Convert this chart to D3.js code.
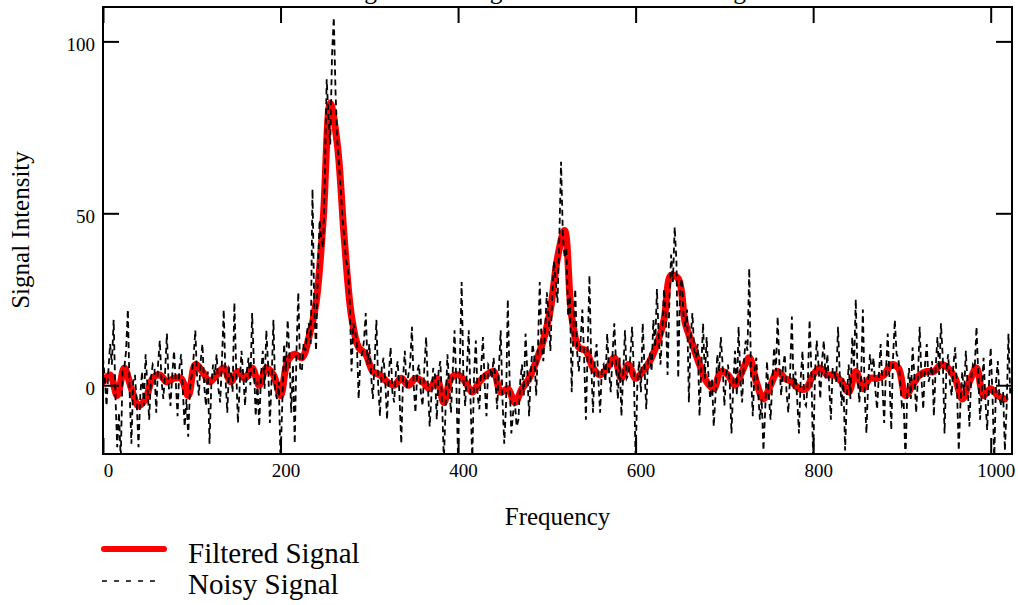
<!DOCTYPE html>
<html>
<head>
<meta charset="utf-8">
<script src="https://cdn.jsdelivr.net/npm/d3@7"></script>
<style>
  body { margin: 0; background: #fff; }
  text { font-family: "Liberation Serif", "Times New Roman", serif; fill: #000; }
</style>
</head>
<body>
<svg id="chart" width="1018" height="605"></svg>
<script>
// noisy signal, read every 2 frequency units (0..1022)
var noisyStep = 2;
var noisyVals = [
  8, 2, -6, 4, 12, 6, 19, -3, -18, -8, -22, 4, 5, 10, 22, -2, -17, 1, 3, -5,
  -18, -3, 4, -6, 9, 0, -10, 2, 6, 5, -8, 6, 13, 1, -4, 4, 15, 0, -6, 3,
  10, 1, -9, 5, 9, -2, -12, -4, -15, -1, 3, 8, 16, 2, -3, 7, 12, 0, -6, 4,
  -17, 0, 6, 3, 9, -1, -5, 7, 22, 2, -8, 5, 4, -2, 24, 5, -11, 0, 10, 3,
  -6, 4, 8, 0, 21, 6, -9, 1, -12, 3, 10, -1, 16, 6, -11, 2, 19, -2, -4, 1,
  -22, -5, 12, 4, 19, 9, -8, 6, -17, 10, 27, 5, 4, 12, 10, 16, 18, 12, 57, 22,
  10, 33, 48, 42, 40, 62, 89, 78, 70, 96, 107, 85, 71, 64, 56, 48, 42, 36, 34, 24,
  4, 18, 16, 12, -4, 8, 9, 13, 21, 6, 12, 3, -4, 7, 19, 0, -9, 5, 8, 1,
  -10, 3, 11, -2, -5, 4, 7, -3, -17, 2, 10, -1, 3, 6, 17, 0, -8, 4, 6, -2,
  -6, 5, 14, 0, -12, -3, 5, 3, -10, 4, 7, -5, -22, -6, 9, 0, -8, 4, 16, 1,
  -22, 6, 30, 2, -6, 5, 16, -4, -22, 3, 13, -3, -7, 5, 14, 0, -9, 6, 5, 2,
  8, 2, -7, 5, 16, -4, -17, -6, 25, 2, -14, -8, -5, -12, -10, 1, 6, -3, 15, 4,
  -9, 4, 12, 8, -3, 11, 30, 12, 7, 16, 27, 20, 10, 26, 36, 30, 24, 42, 65, 44,
  37, 40, 20, 26, -2, 17, 28, 10, 4, 13, 22, 8, -10, 11, 32, 6, -8, 7, 12, 2,
  -8, 5, 6, 1, 15, 4, -2, 9, 18, 6, -4, 8, -9, 3, 16, 2, 3, 8, 17, 4,
  -22, 1, 7, -2, 18, 5, -7, 8, 9, 4, 19, 11, 28, 14, 6, 15, 28, 20, 3, 24,
  38, 30, 46, 36, 2, 28, 31, 20, 17, 22, -5, 14, 21, 10, 8, 12, -9, 5, 18, 2,
  14, 3, -4, 2, -12, -3, 9, 4, 14, 6, -6, 3, 6, 1, -14, 0, 10, -3, 17, 2,
  -5, 7, 13, 10, 34, 3, -9, 4, 8, -2, -10, -4, -19, -7, 7, -3, -10, 1, 11, 4,
  20, 6, -3, 5, 9, -2, -8, 3, 20, -1, 4, -4, -14, 2, 10, -5, -6, 1, 19, 4,
  -22, 3, 13, 6, -4, 7, 13, 2, 9, 0, -10, 5, 4, 1, 17, 3, -6, 2, -19, -3,
  6, -4, 14, 5, 25, 3, -5, 2, 22, -2, -14, 1, 9, 4, 8, -1, -7, 3, 12, 0,
  -11, 4, 15, 2, -13, 8, 19, 9, 8, 1, -6, -5, -22, -2, 5, -4, 11, 3, -8, 2,
  17, 2, -7, 6, 12, 1, 3, 7, -9, 5, 14, 3, 18, 8, -14, 4, 9, 1, -3, 6,
  11, -1, -19, -5, 4, -3, 10, 0, -12, 2, 6, 5, 17, 3, -10, -2, 8, -4, -13, 0,
  11, -3, -22, 1, 7, -4, -6, -2, -19, -6, 15, -3
];

// filtered signal, read every 8 frequency units (0..1016)
var filteredStep = 8;
var filteredVals = [
  1, 3, -3, 5, -1, -6, -4, 2, 3, 1,
  2, 2, -3, 6, 4, 1, 3, 5, 1, 4,
  2, 5, 0, 5, 3, -3, 7, 9, 8, 14,
  24, 48, 82, 70, 42, 20, 11, 9, 4, 3,
  1, 0, 2, 0, 2, 1, -1, 2, -5, 2,
  3, 1, -2, 1, 3, 4, -2, -1, -5, -1,
  2, 7, 13, 22, 37, 45, 20, 11, 10, 5,
  3, 5, 8, 2, 6, 2, 4, 7, 12, 19,
  32, 31, 18, 12, 6, 1, -1, 4, 3, 0,
  4, 8, 1, -4, 0, 4, 2, 1, -1, -1,
  3, 5, 3, 3, 1, -2, 4, -1, 2, 2,
  3, 6, 5, -3, 0, 3, 4, 4, 6, 5,
  2, -4, 1, 5, -3, -1, -3, -4
];

var xTicks = [0, 200, 400, 600, 800, 1000];
var yTicks = [0, 50, 100];

var titleText = "Signal Filtering Results for the Test Signal";
var xLabel = "Frequency";
var yLabel = "Signal Intensity";
var legendNames = ["Filtered Signal", "Noisy Signal"];

var svg = d3.select("#chart");

var plotL = 103, plotR = 1012, plotT = 7, plotB = 454;

var x = d3.scaleLinear().domain([0, 1024]).range([plotL, plotR]);
var y = d3.scaleLinear().domain([-20, 110]).range([plotB, plotT]);

svg.append("defs").append("clipPath").attr("id", "plotclip")
  .append("rect")
  .attr("x", plotL).attr("y", plotT)
  .attr("width", plotR - plotL).attr("height", plotB - plotT);

// title, mostly cut off by the top of the picture
svg.append("text")
  .attr("x", 343)
  .attr("y", -1)
  .style("font-size", "25.5px")
  .text(titleText);

var plot = svg.append("g").attr("clip-path", "url(#plotclip)");

var redLine = d3.line()
  .x(function(d, i) { return x(i * filteredStep); })
  .y(function(d) { return y(d); })
  .curve(d3.curveCatmullRom);

var blackLine = d3.line()
  .x(function(d, i) { return x(i * noisyStep); })
  .y(function(d) { return y(d); });

plot.append("path")
  .datum(filteredVals)
  .attr("d", redLine)
  .attr("fill", "none")
  .attr("stroke", "#ff0000")
  .attr("stroke-width", 7)
  .attr("stroke-linejoin", "round")
  .attr("stroke-linecap", "round");

plot.append("path")
  .datum(noisyVals)
  .attr("d", blackLine)
  .attr("fill", "none")
  .attr("stroke", "#000")
  .attr("stroke-width", 1.8)
  .attr("stroke-dasharray", "6,4");

// axes: inward ticks on all four sides
var tickLen = 16;
var fmt = d3.format("d");

var xAxisB = d3.axisBottom(x).tickValues(xTicks).tickSize(-tickLen).tickPadding(tickLen + 8).tickFormat(fmt);
var xAxisT = d3.axisTop(x).tickValues(xTicks).tickSize(-tickLen).tickFormat("");
var yAxisL = d3.axisLeft(y).tickValues(yTicks).tickSize(-tickLen).tickPadding(tickLen + 8).tickFormat(fmt);
var yAxisR = d3.axisRight(y).tickValues(yTicks).tickSize(-tickLen).tickFormat("");

var gxb = svg.append("g").attr("transform", "translate(0," + plotB + ")").call(xAxisB);
var gxt = svg.append("g").attr("transform", "translate(0," + plotT + ")").call(xAxisT);
var gyl = svg.append("g").attr("transform", "translate(" + plotL + ",0)").call(yAxisL);
var gyr = svg.append("g").attr("transform", "translate(" + plotR + ",0)").call(yAxisR);

[gxb, gxt, gyl, gyr].forEach(function(g) {
  g.select(".domain").remove();
  g.selectAll(".tick line").attr("stroke", "#000").attr("stroke-width", 2);
  g.selectAll(".tick text")
    .style("font-size", "19px")
    .style("font-family", "'Liberation Serif', serif")
    .attr("fill", "#000");
});

gxb.selectAll(".tick text").attr("dx", 5).attr("y", 10);
gyl.selectAll(".tick text").attr("dy", "0.5em").attr("x", -8);

// frame
svg.append("rect")
  .attr("x", plotL).attr("y", plotT)
  .attr("width", plotR - plotL).attr("height", plotB - plotT)
  .attr("fill", "none")
  .attr("stroke", "#000")
  .attr("stroke-width", 2);

// axis titles
svg.append("text")
  .attr("x", (plotL + plotR) / 2)
  .attr("y", 525)
  .attr("text-anchor", "middle")
  .style("font-size", "25px")
  .text(xLabel);

svg.append("text")
  .attr("transform", "translate(29,230) rotate(-90)")
  .attr("text-anchor", "middle")
  .style("font-size", "25px")
  .text(yLabel);

// legend
var legend = svg.append("g");

legend.append("line")
  .attr("x1", 104).attr("x2", 164)
  .attr("y1", 549).attr("y2", 549)
  .attr("stroke", "#ff0000")
  .attr("stroke-width", 6)
  .attr("stroke-linecap", "round");

legend.append("line")
  .attr("x1", 102).attr("x2", 158)
  .attr("y1", 581).attr("y2", 581)
  .attr("stroke", "#000")
  .attr("stroke-width", 1.6)
  .attr("stroke-dasharray", "5,7");

legend.selectAll("text.lg")
  .data(legendNames)
  .enter().append("text")
  .attr("class", "lg")
  .attr("x", 188)
  .attr("y", function(d, i) { return 563 + i * 31; })
  .style("font-size", "29px")
  .text(function(d) { return d; });
</script>
</body>
</html>
